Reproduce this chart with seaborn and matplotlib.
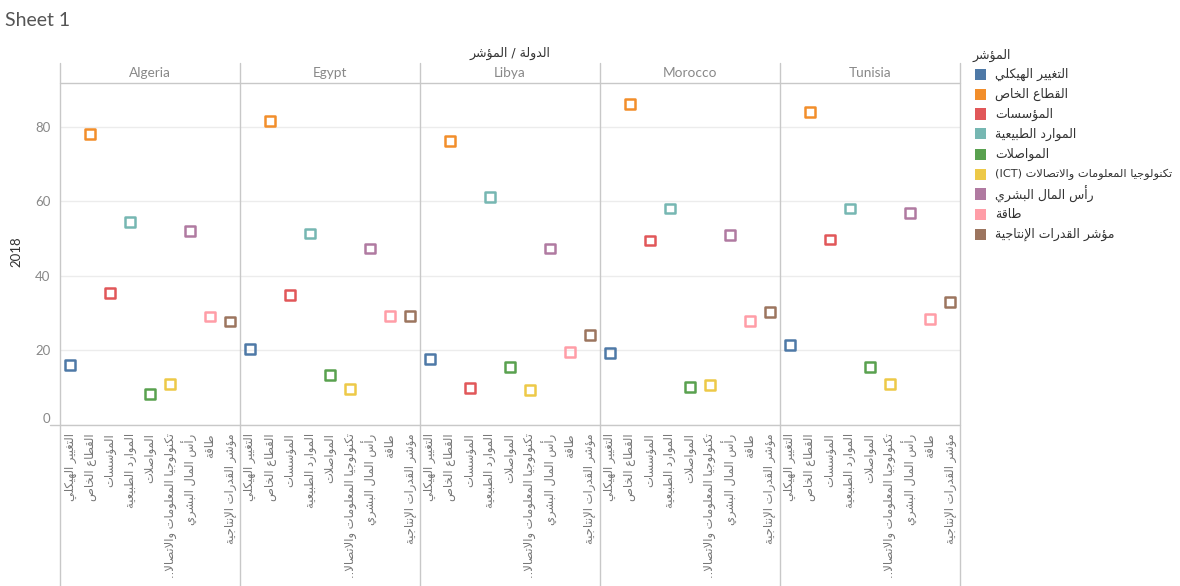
import re
import pandas as pd
import matplotlib
matplotlib.use('Agg')
import matplotlib.pyplot as plt
from matplotlib.lines import Line2D
from matplotlib.patches import Rectangle
import seaborn as sns

# ---- data ----
countries = ['Algeria', 'Egypt', 'Libya', 'Morocco', 'Tunisia']
indicators = ['التغيير الهيكلي', 'القطاع الخاص', 'المؤسسات', 'الموارد الطبيعية',
              'المواصلات', 'تكنولوجيا المعلومات والاتصالات (ICT)', 'رأس المال البشري',
              'طاقة', 'مؤشر القدرات الإنتاجية']
tick_labels = ['التغيير الهيكلي', 'القطاع الخاص', 'المؤسسات', 'الموارد الطبيعية',
               'المواصلات', 'تكنولوجيا المعلومات والاتصالا..', 'رأس المال البشري',
               'طاقة', 'مؤشر القدرات الإنتاجية']
algeria = [16.2, 78.1, 35.5, 54.4, 8.3, 11.0, 52.0, 29.1, 27.8]
egypt = [20.4, 81.6, 35.0, 51.4, 13.5, 9.7, 47.4, 29.3, 29.3]
libya = [17.8, 76.2, 10.0, 61.1, 15.6, 9.4, 47.4, 19.7, 24.2]
morocco = [19.4, 86.1, 49.5, 58.1, 10.2, 10.8, 51.1, 28.0, 30.4]
tunisia = [21.5, 84.0, 49.8, 58.1, 15.6, 11.0, 56.8, 28.5, 33.1]
colors = ['#4e79a7', '#f28e2b', '#e15759', '#76b7b2', '#59a14f',
          '#edc948', '#b07aa1', '#ff9da7', '#9c755f']

rows = []
for c, vals in zip(countries, [algeria, egypt, libya, morocco, tunisia]):
    for ind, v in zip(indicators, vals):
        rows.append({'country': c, 'indicator': ind, 'value': v})
df = pd.DataFrame(rows)

# ---- simple arabic shaping (matplotlib has no shaping / bidi) ----
ar_letters = "ءآأؤإئابةتثجحخدذرزسشصضطظعغفقكلمنهوىي"
ar_counts = [1, 2, 2, 2, 2, 4, 2, 4, 2, 4, 4, 4, 4, 4, 2, 2, 2, 2, 4, 4,
             4, 4, 4, 4, 4, 4, 4, 4, 4, 4, 4, 4, 4, 2, 2, 4]
FORMS = {}
base = 0xFE80
for ch, n in zip(ar_letters, ar_counts):
    FORMS[ch] = [chr(base + k) for k in range(n)]
    base += n
LAM_ALEF = {'آ': (0xFEF5, 0xFEF6), 'أ': (0xFEF7, 0xFEF8),
            'إ': (0xFEF9, 0xFEFA), 'ا': (0xFEFB, 0xFEFC)}


def ar(text):
    toks = []
    i = 0
    while i < len(text):
        if text[i] == 'ل' and i + 1 < len(text) and text[i + 1] in LAM_ALEF:
            toks.append(('LA', text[i + 1]))
            i += 2
        else:
            toks.append(('C', text[i]))
            i += 1

    def kind(t):
        if t[0] == 'LA':
            return 'R'
        return {4: 'D', 2: 'R'}.get(len(FORMS.get(t[1], [])), 'U')

    out = []
    for j, t in enumerate(toks):
        k = kind(t)
        prev = kind(toks[j - 1]) if j > 0 else 'U'
        nxt = kind(toks[j + 1]) if j + 1 < len(toks) else 'U'
        jp = k != 'U' and prev == 'D'
        jn = k == 'D' and nxt != 'U'
        if t[0] == 'LA':
            out.append(chr(LAM_ALEF[t[1]][1 if jp else 0]))
        elif k == 'U':
            out.append(t[1])
        else:
            out.append(FORMS[t[1]][3 if (jp and jn) else 1 if jp else 2 if jn else 0])
    vis = ''.join(out)[::-1]
    vis = re.sub(r'[A-Za-z0-9]+', lambda m: m.group(0)[::-1], vis)
    return vis.translate(str.maketrans('()', ')('))


# ---- figure ----
sns.set_theme(style='white')
plt.rcParams['font.family'] = ['Lato', 'DejaVu Sans']

W, H = 1180, 586
fig = plt.figure(figsize=(W / 100, H / 100), dpi=100)
fig.patch.set_facecolor('white')

def fx(px):
    return px / W

def fy(py):
    return 1 - py / H

line_c = '#c8c8c8'
x0, pw, top, bot = 60, 180, 83, 425

for i, c in enumerate(countries):
    ax = fig.add_axes([fx(x0 + pw * i), fy(bot), fx(pw), (bot - top) / H])
    sub = df[df['country'] == c]
    sns.scatterplot(data=sub, x='indicator', y='value', hue='indicator',
                    hue_order=indicators, palette=colors, marker='s', s=50,
                    legend=False, ax=ax)
    pc = ax.collections[-1]
    fc = pc.get_facecolors()
    pc.set_facecolor('none')
    pc.set_edgecolor(fc)
    pc.set_linewidth(1.8)

    ax.set_xlim(-0.5, 8.5)
    ax.set_ylim(0, 91.8)
    ax.set_yticks([0, 20, 40, 60, 80])
    ax.grid(axis='y', color='#ececec', linewidth=1)
    ax.set_axisbelow(True)
    for s in ax.spines.values():
        s.set_visible(False)
    ax.set_xlabel('')
    ax.set_ylabel('')
    ax.set_xticks(range(9))
    ax.set_xticklabels([ar(t) for t in tick_labels], rotation=90, va='top',
                       ha='center', fontsize=8.3, color='#777777',
                       family=['DejaVu Sans'])
    ax.set_xticks([k + 0.5 for k in range(8)], minor=True)
    ax.tick_params(axis='x', which='major', length=0, pad=6)
    ax.tick_params(axis='x', which='minor', length=4, color='#e8e8e8', width=1)
    if i == 0:
        ax.tick_params(axis='y', length=0, pad=7, labelsize=9.5, labelcolor='#888888')
        ax.get_yticklabels()[0].set_va('bottom')
    else:
        ax.tick_params(axis='y', length=0, labelleft=False)

    fig.text(fx(x0 + pw * i + pw / 2), fy(73), c, ha='center', va='center',
             fontsize=9.8, color='#888888')

# frame lines
for k in range(6):
    fig.add_artist(Line2D([fx(x0 + pw * k)] * 2, [fy(63), fy(586)],
                          color=line_c, lw=1))
fig.add_artist(Line2D([fx(x0), fx(x0 + 5 * pw)], [fy(top)] * 2, color=line_c, lw=1))
fig.add_artist(Line2D([fx(50), fx(x0 + 5 * pw)], [fy(bot)] * 2, color=line_c, lw=1))

# titles
fig.text(fx(5), fy(21), 'Sheet 1', ha='left', va='center', fontsize=14,
         color='#555555', family=['Lato', 'DejaVu Sans'])
fig.text(fx(510), fy(53), ar('الدولة / المؤشر'), ha='center',
         va='center', fontsize=9, color='#333333', family=['DejaVu Sans'])
fig.text(fx(16), fy(252), '2018', rotation=90, ha='center', va='center',
         fontsize=9.5, color='#333333')

# legend
fig.text(fx(973), fy(55), ar('المؤشر'), ha='left', va='center', fontsize=9,
         color='#333333', family=['DejaVu Sans'])
for k, (lab, col) in enumerate(zip(indicators, colors)):
    yc = 74 + 20 * k
    fig.add_artist(Rectangle((fx(975), fy(yc + 5.5)), fx(11), 11 / H,
                             facecolor=col, edgecolor='none'))
    fs = 8.2 if '(' in lab else 9
    fig.text(fx(995), fy(yc), ar(lab), ha='left', va='center', fontsize=fs,
             color='#333333', family=['DejaVu Sans'])

fig.savefig('out.png', dpi=100)
